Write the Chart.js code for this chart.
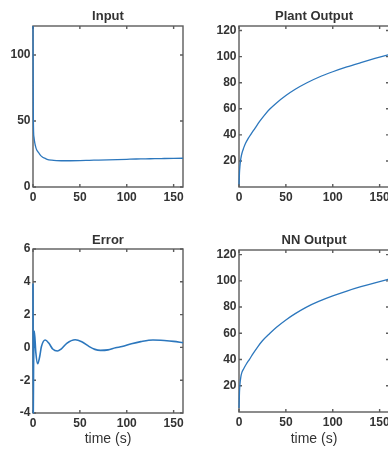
<!DOCTYPE html>
<html>
<head>
<meta charset="utf-8">
<script src="https://cdn.jsdelivr.net/npm/chart.js@4.4.1/dist/chart.umd.min.js"></script>
<style>
  html, body { margin: 0; padding: 0; background: #fff; overflow: hidden; }
  body { width: 388px; height: 449px; position: relative; }
  canvas { position: absolute; }
</style>
</head>
<body>
<canvas id="cInput" width="190" height="220" style="left:0;top:0"></canvas>
<canvas id="cPlant" width="206" height="220" style="left:190px;top:0"></canvas>
<canvas id="cError" width="190" height="229" style="left:0;top:220px"></canvas>
<canvas id="cNN" width="206" height="229" style="left:190px;top:220px"></canvas>
<script>
// --- data (time in seconds) ---
const timeTicks = [0, 50, 100, 150];

const inputTime  = [0, 0.3, 0.6, 1, 2, 3, 4, 5, 6, 8, 10, 12, 15, 20, 25, 30, 40, 50, 60, 70, 80, 90, 100, 110, 120, 130, 140, 150, 160];
const inputValue = [122, 60, 42, 38, 33, 30, 28, 27, 26, 24, 22.8, 22, 21, 20.3, 20, 19.9, 19.9, 20, 20.2, 20.4, 20.6, 20.8, 21, 21.2, 21.3, 21.5, 21.6, 21.7, 21.8];
const inputTicks = [0, 50, 100];

const plantTime  = [0, 0.5, 1, 1.5, 2, 3, 5, 7, 10, 13, 17, 22, 27, 32.6, 40, 50, 60, 72.5, 85, 100, 115, 130, 145, 160];
const plantValue = [2, 11, 16, 19.5, 22, 25.5, 30, 33.5, 37.5, 40.8, 45, 50.3, 55, 59.6, 64.5, 70.2, 75, 80, 84.2, 88.4, 92.1, 95.4, 98.6, 101.6];
const outputTicks = [20, 40, 60, 80, 100, 120];

const errorTime  = [0, 0.3, 0.6, 1.4, 3, 5, 7, 9, 13, 17, 21, 26, 30, 36, 45, 52, 60, 66, 72, 80, 88, 95, 105, 115, 128, 140, 150, 160];
const errorValue = [3.9, -4, -1.3, 1.0, -0.3, -1.0, -0.6, 0.05, 0.45, 0.25, -0.1, -0.22, -0.1, 0.25, 0.47, 0.35, 0.05, -0.12, -0.18, -0.15, -0.02, 0.05, 0.22, 0.35, 0.45, 0.42, 0.37, 0.28];
const errorTicks = [-4, -2, 0, 2, 4, 6];

const nnTime  = [0, 0.5, 1, 2, 3, 5, 8, 11, 15, 20, 25, 33, 40, 50, 60, 72, 85, 100, 115, 130, 145, 160];
const nnValue = [3, 15, 21, 27, 30, 33, 36.8, 40, 44.5, 49.7, 54.3, 60, 64.6, 70.2, 75, 80, 84.3, 88.5, 92.2, 95.5, 98.5, 101.3];

// --- look ---
const lineBlue = '#2c77bd';
const frameGrey = '#5c5c5c';
const textColor = '#333';
const fontFamily = '"Liberation Sans", Arial, Helvetica, sans-serif';

const toPoints = (xs, ys) => xs.map((x, i) => ({ x: x, y: ys[i] }));

// box round the axes with short inward ticks on all four sides,
// drawn under the curve so a line hugging the edge stays visible
const axesBox = {
  id: 'axesBox',
  beforeDatasetsDraw(chart) {
    const { ctx, chartArea: a, scales } = chart;
    const x = scales.x, y = scales.y;
    ctx.save();
    ctx.strokeStyle = frameGrey;
    ctx.lineWidth = 1.4;
    ctx.beginPath();
    x.ticks.forEach(t => {
      const px = x.getPixelForValue(t.value);
      ctx.moveTo(px, a.bottom); ctx.lineTo(px, a.bottom - 3);
      ctx.moveTo(px, a.top); ctx.lineTo(px, a.top + 3);
    });
    y.ticks.forEach(t => {
      const py = y.getPixelForValue(t.value);
      ctx.moveTo(a.left, py); ctx.lineTo(a.left + 3, py);
      ctx.moveTo(a.right, py); ctx.lineTo(a.right - 3, py);
    });
    ctx.stroke();
    ctx.strokeRect(a.left, a.top, a.right - a.left, a.bottom - a.top);
    ctx.restore();
  }
};

function makePanel(id, opt) {
  const ctx = document.getElementById(id).getContext('2d');
  return new Chart(ctx, {
    type: 'line',
    data: {
      datasets: [{
        data: toPoints(opt.time, opt.values),
        borderColor: lineBlue,
        borderWidth: opt.lineWidth || 1.3,
        pointRadius: 0,
        fill: false,
        clip: 1,
        cubicInterpolationMode: 'monotone'
      }]
    },
    options: {
      responsive: false,
      animation: false,
      events: [],
      layout: { padding: { left: 0, top: 0, right: 7, bottom: 0 } },
      plugins: {
        legend: { display: false },
        tooltip: { enabled: false },
        title: {
          display: true,
          text: opt.title,
          fullSize: false,
          color: textColor,
          font: { family: fontFamily, size: 13, weight: 'bold' },
          padding: { top: opt.titleTop, bottom: opt.titleBottom }
        }
      },
      scales: {
        x: {
          type: 'linear',
          min: 0,
          max: 160,
          afterBuildTicks: s => { s.ticks = timeTicks.map(v => ({ value: v })); },
          afterFit: s => { s.height = opt.xHeight; },
          grid: { display: false, drawTicks: false },
          border: { display: false },
          ticks: {
            color: textColor,
            padding: 3.5,
            maxRotation: 0,
            font: { family: fontFamily, size: 12, weight: 'bold' }
          },
          title: {
            display: !!opt.xTitle,
            text: opt.xTitle || '',
            color: textColor,
            font: { family: fontFamily, size: 14 },
            padding: { top: 0, bottom: 1.6 }
          }
        },
        y: {
          type: 'linear',
          min: opt.yMin,
          max: opt.yMax,
          afterBuildTicks: s => { s.ticks = opt.yTicks.map(v => ({ value: v })); },
          afterFit: s => { s.width = opt.yWidth; },
          grid: { display: false, drawTicks: false },
          border: { display: false },
          ticks: {
            color: textColor,
            padding: 2.5,
            font: { family: fontFamily, size: 12, weight: 'bold' }
          }
        }
      }
    },
    plugins: [axesBox]
  });
}

makePanel('cInput', {
  title: 'Input', time: inputTime, values: inputValue,
  yMin: 0, yMax: 122, yTicks: inputTicks,
  yWidth: 33, xHeight: 33, titleTop: 9, titleBottom: 1.4
});

makePanel('cPlant', {
  title: 'Plant Output', time: plantTime, values: plantValue,
  yMin: 0, yMax: 123.5, yTicks: outputTicks,
  yWidth: 49, xHeight: 33, titleTop: 9, titleBottom: 1.4
});

makePanel('cError', {
  title: 'Error', time: errorTime, values: errorValue, lineWidth: 1.6,
  yMin: -4, yMax: 6, yTicks: errorTicks,
  yWidth: 33, xHeight: 36, titleTop: 12.6, titleBottom: 0.8, xTitle: 'time (s)'
});

makePanel('cNN', {
  title: 'NN Output', time: nnTime, values: nnValue,
  yMin: 0, yMax: 123.5, yTicks: outputTicks,
  yWidth: 49, xHeight: 37, titleTop: 12.6, titleBottom: 1.8, xTitle: 'time (s)'
});
</script>
</body>
</html>
